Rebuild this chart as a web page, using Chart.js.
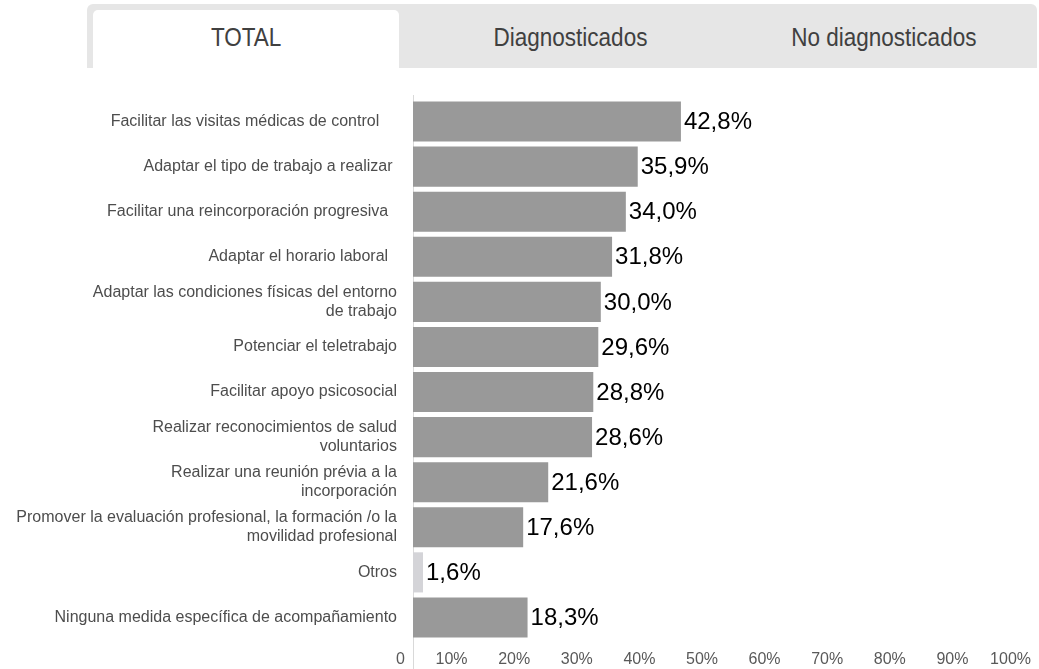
<!DOCTYPE html>
<html>
<head>
<meta charset="utf-8">
<script src="https://cdn.jsdelivr.net/npm/chart.js@4/dist/chart.umd.min.js"></script>
<style>
  html, body { margin: 0; padding: 0; background: #fff; }
  body { width: 1039px; height: 669px; position: relative; overflow: hidden; }
  #tabs {
    position: absolute; left: 87px; top: 4px; width: 950px; height: 64px;
    background: #e6e6e6; border-radius: 6px 6px 0 0; z-index: 2;
  }
  .tab {
    position: absolute; top: 6px; height: 58px; width: 306px;
    font-family: "Liberation Sans", Arial, sans-serif;
    font-size: 25px; color: #404040; text-align: center; line-height: 54px;
  }
  .tab span { display: inline-block; transform: scaleX(0.9); }
  .tab.active { background: #fff; border-radius: 5px 5px 0 0; }
  #wrap { position: absolute; left: 0; top: 0; width: 1039px; height: 669px; }
</style>
</head>
<body>
<div id="tabs">
  <div class="tab active" style="left:6px"><span>TOTAL</span></div>
  <div class="tab" style="left:330px"><span>Diagnosticados</span></div>
  <div class="tab" style="left:644px"><span>No diagnosticados</span></div>
</div>
<div id="wrap"><canvas id="medidasChart"></canvas></div>
<script>
// medidas de acompañamiento (trailing spaces as in the original labels)
const labels = [
    'Facilitar las visitas médicas de control    ',
    'Adaptar el tipo de trabajo a realizar ',
    'Facilitar una reincorporación progresiva  ',
    'Adaptar el horario laboral  ',
    ['Adaptar las condiciones físicas del entorno', 'de trabajo'],
    'Potenciar el teletrabajo',
    'Facilitar apoyo psicosocial',
    ['Realizar reconocimientos de salud', 'voluntarios'],
    ['Realizar una reunión prévia a la', 'incorporación'],
    ['Promover la evaluación profesional, la formación /o la', 'movilidad profesional'],
    'Otros',
    'Ninguna medida específica de acompañamiento'
]
const values = [42.8, 35.9, 34.0, 31.8, 30.0, 29.6, 28.8, 28.6, 21.6, 17.6, 1.6, 18.3]
const xTicks = [0, 10, 20, 30, 40, 50, 60, 70, 80, 90, 100]

const fmt = v => v.toFixed(1).replace('.', ',') + '%'

// etiquetas de valor al final de cada barra + linea del eje
const valueLabels = {
    id: 'valueLabels',
    beforeDatasetsDraw(chart) {
        const c = chart.ctx
        const x0 = chart.scales.x.getPixelForValue(0)
        c.save()
        c.strokeStyle = '#d9d9d9'
        c.lineWidth = 1
        c.beginPath()
        c.moveTo(Math.round(x0) + 0.5, chart.chartArea.top - 4)
        c.lineTo(Math.round(x0) + 0.5, chart.height)
        c.stroke()
        c.restore()
    },
    afterDatasetsDraw(chart) {
        const c = chart.ctx
        const meta = chart.getDatasetMeta(0)
        c.save()
        c.font = '24px "Liberation Sans", Arial, sans-serif'
        c.fillStyle = '#000'
        c.textAlign = 'left'
        c.textBaseline = 'middle'
        meta.data.forEach((bar, i) => {
            c.fillText(fmt(values[i]), bar.x + 3, bar.y + 1)
        })
        c.restore()
    }
}

const ctx = document.getElementById('medidasChart').getContext('2d')

const medidasChart = new Chart(ctx, {
    type: 'bar',
    data: {
        labels: labels,
        datasets: [{
            data: values,
            backgroundColor: c => labels[c.index] === 'Otros' ? '#d4d4d8' : '#999999',
            barPercentage: 1,
            categoryPercentage: 0.89
        }]
    },
    options: {
        indexAxis: 'y',
        responsive: true,
        maintainAspectRatio: false,
        animation: false,
        layout: { padding: { top: 99, bottom: 2, left: 0, right: 0 } },
        scales: {
            x: {
                min: 0,
                max: 100,
                grid: { display: false, drawTicks: false },
                border: { display: false },
                afterBuildTicks: s => { s.ticks = xTicks.map(v => ({ value: v })) },
                afterFit: s => {
                    s.height = 27
                    s.paddingLeft = 0
                    s.paddingRight = 0
                },
                ticks: {
                    align: 'end',
                    labelOffset: -8,
                    padding: 10,
                    maxRotation: 0,
                    autoSkip: false,
                    color: '#595959',
                    font: { family: '"Liberation Sans", Arial, sans-serif', size: 16 },
                    callback: v => v === 0 ? '0' : v + '%'
                }
            },
            y: {
                grid: { display: false, drawTicks: false },
                border: { display: false },
                afterFit: s => { s.width = 413 },
                ticks: {
                    padding: 16,
                    autoSkip: false,
                    color: '#4d4d4d',
                    font: { family: '"Liberation Sans", Arial, sans-serif', size: 16, lineHeight: 1.2 }
                }
            }
        },
        plugins: {
            legend: { display: false },
            title: { display: false },
            tooltip: { enabled: false }
        }
    },
    plugins: [valueLabels]
})
</script>
</body>
</html>
